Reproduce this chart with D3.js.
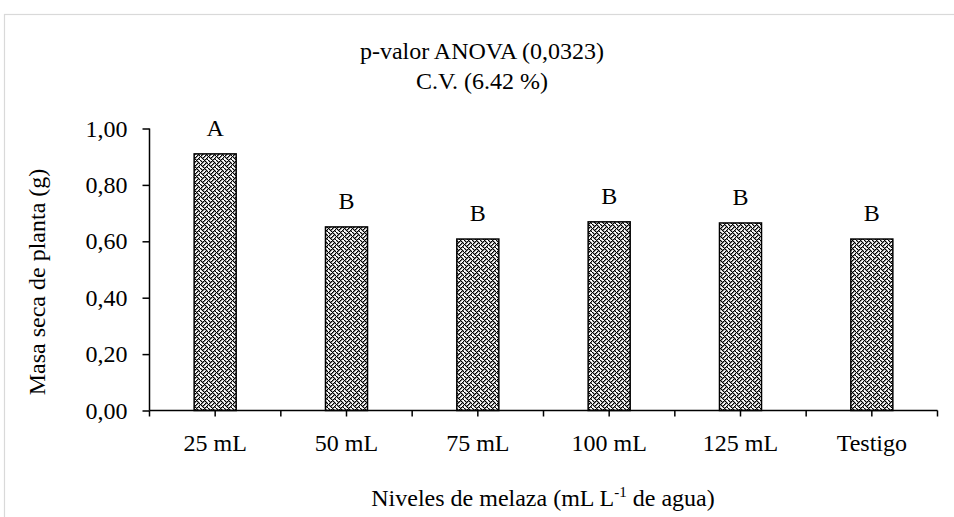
<!DOCTYPE html>
<html>
<head>
<meta charset="utf-8">
<script src="https://cdn.jsdelivr.net/npm/d3@7"></script>
<style>
  html, body { margin: 0; padding: 0; background: #fff; }
  svg { display: block; }
  text { font-family: "Liberation Serif", "Times New Roman", serif; fill: #000; }
</style>
</head>
<body>
<svg id="chart" width="954" height="517"></svg>
<script>
const categories = ["25 mL", "50 mL", "75 mL", "100 mL", "125 mL", "Testigo"];
const values = [0.91, 0.651, 0.608, 0.669, 0.665, 0.608];
const letters = ["A", "B", "B", "B", "B", "B"];
const yTicks = [0, 0.2, 0.4, 0.6, 0.8, 1.0];
const titleLines = ["p-valor ANOVA (0,0323)", "C.V. (6.42 %)"];

const svg = d3.select("#chart");
const FS = 24;
const plot = { left: 149.5, right: 937.5, top: 128.5, bottom: 410.5 };

// chart area border
svg.append("rect").attr("x", 4.5).attr("y", 14.5).attr("width", 1000).attr("height", 600)
  .attr("fill", "#fff").attr("stroke", "#d9d9d9").attr("stroke-width", 1.2);

// pattern (weave-like)
const rows = [0x88, 0x54, 0x22, 0x45, 0x88, 0x51, 0x22, 0x15];
const defs = svg.append("defs");
const pat = defs.append("pattern").attr("id", "weave").attr("patternUnits", "userSpaceOnUse")
  .attr("width", 8).attr("height", 8);
pat.append("rect").attr("width", 8).attr("height", 8).attr("fill", "#fff");
rows.forEach((r, j) => {
  for (let i = 0; i < 8; i++) {
    if (r & (0x80 >> i)) pat.append("rect").attr("x", i).attr("y", j).attr("width", 1.4).attr("height", 1.2).attr("fill", "#000");
  }
});

const x = d3.scaleBand().domain(categories).range([plot.left, plot.right]).paddingInner(0.68).paddingOuter(0.34);
const xOuter = d3.scaleBand().domain(categories).range([plot.left, plot.right]);
const y = d3.scaleLinear().domain([0, 1]).range([plot.bottom, plot.top]);

// bars
svg.append("g").selectAll("rect").data(values).join("rect")
  .attr("x", (d, i) => x(categories[i]))
  .attr("y", d => y(d))
  .attr("width", x.bandwidth())
  .attr("height", d => y(0) - y(d))
  .attr("fill", "url(#weave)")
  .attr("stroke", "#000").attr("stroke-width", 1.5);

// letters
svg.append("g").selectAll("text").data(values).join("text")
  .attr("x", (d, i) => xOuter(categories[i]) + xOuter.bandwidth() / 2)
  .attr("y", d => y(d) - 18)
  .attr("text-anchor", "middle").attr("font-size", FS)
  .text((d, i) => letters[i]);

// y axis
const yAxis = d3.axisLeft(y).tickValues(yTicks).tickSize(7).tickPadding(15)
  .tickFormat(d => d3.format(".2f")(d).replace(".", ","));
const gy = svg.append("g").attr("transform", `translate(${plot.left},0)`).call(yAxis);
gy.select(".domain").attr("stroke", "#000").attr("stroke-width", 1.5).attr("d", `M0,${plot.top}V${plot.bottom}`);
gy.selectAll(".tick line").attr("stroke", "#000").attr("stroke-width", 1.5);
gy.selectAll(".tick text").attr("font-size", FS).attr("font-family", "Liberation Serif").attr("fill", "#000");

// x axis
const xAxis = d3.axisBottom(xOuter).tickSize(0);
const gx = svg.append("g").attr("transform", `translate(0,${plot.bottom})`).call(xAxis);
gx.select(".domain").attr("stroke", "#000").attr("stroke-width", 1.5).attr("d", `M${plot.left},0H${plot.right}`);
gx.selectAll(".tick text").attr("font-size", FS).attr("font-family", "Liberation Serif").attr("fill", "#000")
  .attr("y", 40).attr("dy", 0);
// tick marks at boundaries and centers
const tickXs = [];
categories.forEach(c => { tickXs.push(xOuter(c)); tickXs.push(xOuter(c) + xOuter.bandwidth() / 2); });
tickXs.push(plot.right);
gx.append("g").selectAll("line").data(tickXs).join("line")
  .attr("x1", d => d).attr("x2", d => d).attr("y1", 0).attr("y2", 6)
  .attr("stroke", "#000").attr("stroke-width", 1.5);

// title
svg.append("g").selectAll("text").data(titleLines).join("text")
  .attr("x", 482).attr("y", (d, i) => 59 + i * 30)
  .attr("text-anchor", "middle").attr("font-size", FS).text(d => d);

// y title
svg.append("text").attr("transform", "translate(45,282) rotate(-90)")
  .attr("text-anchor", "middle").attr("font-size", FS).text("Masa seca de planta (g)");

// x title
const xt = svg.append("text").attr("x", 543).attr("y", 506).attr("text-anchor", "middle").attr("font-size", FS);
xt.append("tspan").text("Niveles de melaza (mL L");
xt.append("tspan").attr("font-size", 15).attr("dy", -9).text("-1");
xt.append("tspan").attr("dy", 9).text(" de agua)");
</script>
</body>
</html>
